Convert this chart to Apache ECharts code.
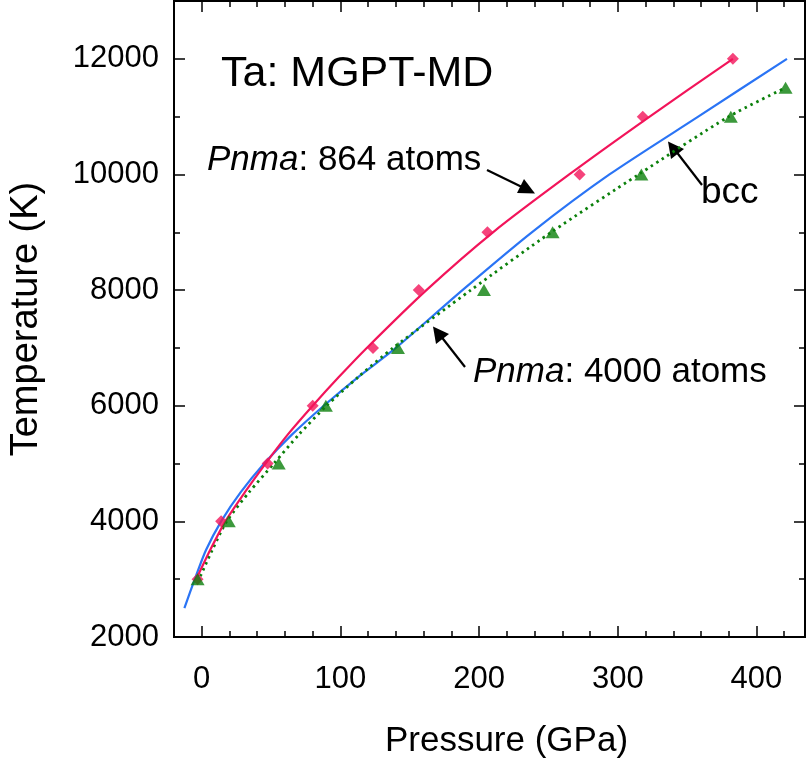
<!DOCTYPE html>
<html><head><meta charset="utf-8">
<script src="https://cdn.jsdelivr.net/npm/echarts@6/dist/echarts.min.js"></script>
<style>html,body{margin:0;padding:0;background:#fff}#c{width:806px;height:767px}</style>
</head><body><div id="c"></div>
<script>
// Data (pressure GPa, temperature K)
const pnma864Points = [[-3,3000],[14,4000],[47.5,5000],[80,6000],[123.5,7000],[156.5,8000],[206,9000],[272.5,10000],[318,11000],[383,12000]];
const pnma864Fit = [[-3,3050],[6,3500],[17,4000],[31,4500],[46,5000],[62,5500],[80,6000],[99,6500],[119,7000],[162,8000],[210,9000],[265,10000],[323,11000],[383,12000]];
const pnma4000Points = [[-3,3000],[19.5,4000],[55.5,5000],[89.5,6000],[141.5,7000],[203.5,8000],[253,9000],[317,10000],[381.5,11000],[421,11500]];
const pnma4000Fit = [[-1,3050],[7.5,3500],[18,4000],[34,4500],[52,5000],[70,5500],[90,6000],[113,6500],[138,7000],[194,8000],[252,9000],[315,10000],[380,11000],[421,11500]];
const bccCurve = [[-12.5,2500],[-5,3000],[3,3500],[14,4000],[28,4500],[45,5000],[65,5500],[88,6000],[113,6500],[140,7000],[188,8000],[238,9000],[294,10000],[358,11000],[422,12000]];
const xMajorTicks = [0,100,200,300,400];
const xMinorTicks = [20,40,60,80,120,140,160,180,220,240,260,280,320,340,360,380,420];
const yMajorTicks = [2000,4000,6000,8000,10000,12000];
const yMinorTicks = [3000,5000,7000,9000,11000];
const xRange = [-20, 435];
const yRange = [2000, 13000];

const FONT = 'Liberation Sans, Arial, sans-serif';
const black = '#000';
const chart = echarts.init(document.getElementById('c'), null, {renderer:'canvas'});

function xAx(pos, ticks, len, labels, name){
  return {
    type:'value', position:pos, min:xRange[0], max:xRange[1],
    axisLine:{show:true, onZero:false, lineStyle:{color:black,width:2}},
    axisTick:{show:true, inside:true, length:len, customValues:ticks, lineStyle:{color:black,width:1.5}},
    axisLabel:labels ? {show:true, customValues:ticks, formatter:v=>String(v), fontSize:31, color:black, fontFamily:FONT, margin:27} : {show:false},
    splitLine:{show:false},
    name: name || '', nameLocation:'middle', nameGap:87,
    nameTextStyle:{fontSize:35, color:black, fontFamily:FONT, padding:[0,0,0,34]}
  };
}
function yAx(pos, ticks, len, labels, name){
  return {
    type:'value', position:pos, min:yRange[0], max:yRange[1],
    axisLine:{show:true, onZero:false, lineStyle:{color:black,width:2}},
    axisTick:{show:true, inside:true, length:len, customValues:ticks, lineStyle:{color:black,width:1.5}},
    axisLabel:labels ? {show:true, customValues:ticks, formatter:v=>String(v), fontSize:31, color:black, fontFamily:FONT, margin:15} : {show:false},
    splitLine:{show:false},
    name: name || '', nameLocation:'middle', nameGap:128, nameRotate:90,
    nameTextStyle:{fontSize:38, color:black, fontFamily:FONT}
  };
}

const pink = '#f2145a', blue = '#2a74f5', green = '#0b800b';

const option = {
  backgroundColor:'#fff',
  animation:false,
  grid:{left:174, right:1, top:1, bottom:130, containLabel:false},
  xAxis:[
    xAx('bottom', xMajorTicks, 11, true, 'Pressure (GPa)'),
    xAx('bottom', xMinorTicks, 6, false),
    xAx('top', xMajorTicks, 11, false),
    xAx('top', xMinorTicks, 6, false)
  ],
  yAxis:[
    yAx('left', yMajorTicks, 11, true, 'Temperature (K)'),
    yAx('left', yMinorTicks, 6, false),
    yAx('right', yMajorTicks, 11, false),
    yAx('right', yMinorTicks, 6, false)
  ],
  series:[
    {type:'line', name:'bcc', data:bccCurve, smooth:0.25, showSymbol:false, lineStyle:{color:blue,width:2.2}, z:2},
    {type:'line', name:'Pnma 864 fit', data:pnma864Fit, smooth:0.25, showSymbol:false, lineStyle:{color:pink,width:2.2}, z:3},
    {type:'line', name:'Pnma 4000 fit', data:pnma4000Fit, smooth:0.25, showSymbol:false, lineStyle:{color:green,width:2.8,type:[2.5,4]}, z:2},
    {type:'scatter', name:'Pnma 864', data:pnma864Points, symbol:'diamond', symbolSize:[12,12], itemStyle:{color:pink}, z:4},
    {type:'scatter', name:'Pnma 4000', data:pnma4000Points, symbol:'triangle', symbolSize:[14,12], itemStyle:{color:green}, z:4}
  ],
  graphic:[
    {type:'text', left:221, top:53, style:{text:'Ta: MGPT-MD', font:'43px '+FONT, fill:black}},
    {type:'text', left:207, top:143, style:{text:'{i|Pnma}: 864 atoms', font:'35px '+FONT, fill:black,
      rich:{i:{fontStyle:'italic', fontSize:35, fontFamily:FONT, fill:black}}}},
    {type:'text', left:701, top:174, style:{text:'bcc', font:'37px '+FONT, fill:black}},
    {type:'text', left:473, top:355, style:{text:'{i|Pnma}: 4000 atoms', font:'35px '+FONT, fill:black,
      rich:{i:{fontStyle:'italic', fontSize:35, fontFamily:FONT, fill:black}}}},
    {type:'line', shape:{x1:487,y1:170,x2:526,y2:189}, style:{stroke:black,lineWidth:2.2}},
    {type:'polygon', shape:{points:[[535,193.5],[517,193],[524,179]]}, style:{fill:black}},
    {type:'line', shape:{x1:702,y1:185,x2:675,y2:150}, style:{stroke:black,lineWidth:2.2}},
    {type:'polygon', shape:{points:[[668,141.5],[671,159],[684,149]]}, style:{fill:black}},
    {type:'line', shape:{x1:465,y1:367,x2:440,y2:335}, style:{stroke:black,lineWidth:2.2}},
    {type:'polygon', shape:{points:[[433,326.5],[436,344],[449,334]]}, style:{fill:black}}
  ]
};
chart.setOption(option);
</script>
</body></html>
